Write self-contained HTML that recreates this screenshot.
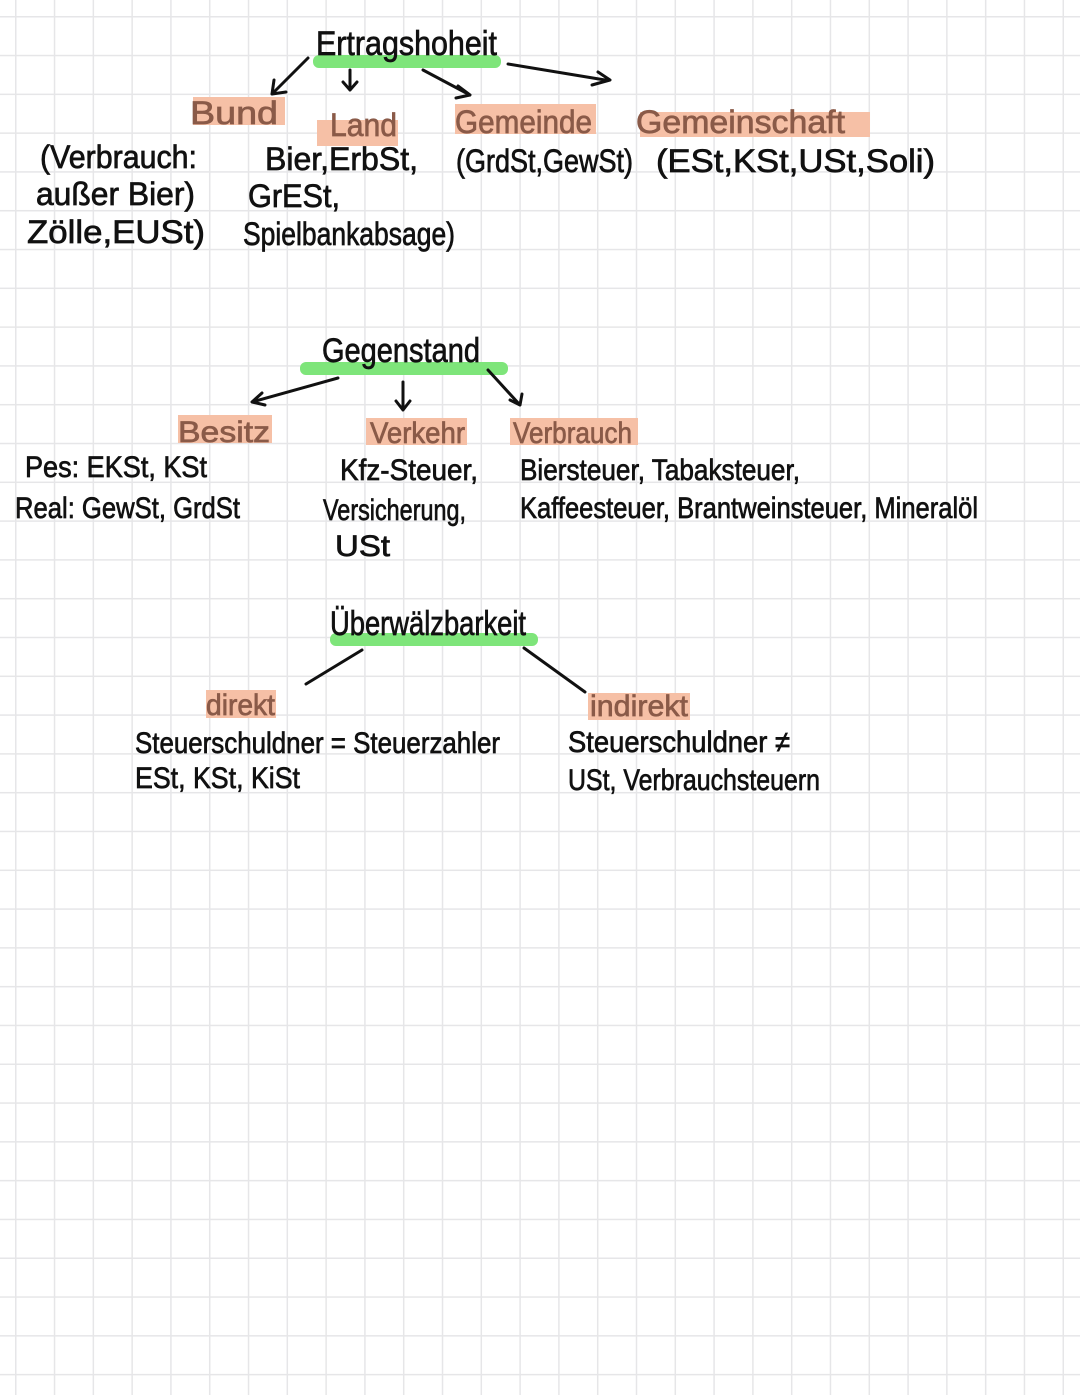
<!DOCTYPE html>
<html><head><meta charset="utf-8"><style>
html,body{margin:0;padding:0;}
body{width:1080px;height:1395px;background-color:#fff;
background-image:linear-gradient(to right,#e6e6e8 1.5px,transparent 1.5px),linear-gradient(to bottom,#e6e6e8 1.5px,transparent 1.5px);
background-size:38.8px 38.8px;background-position:15px 16px;overflow:hidden;}
svg{position:absolute;left:0;top:0;}
text{font-family:"Liberation Sans Narrow","Liberation Sans",sans-serif;fill:#111;stroke:#111;stroke-width:0.7;}
.b{fill:#8a5a48;stroke:#8a5a48;}
</style></head><body>
<svg width="1080" height="1395" viewBox="0 0 1080 1395">
<g fill="#7ee57a">
<rect x="313" y="55" width="188" height="13" rx="6"/>
<rect x="300" y="362" width="208" height="13" rx="6"/>
<rect x="330" y="633" width="208" height="13" rx="6"/>
</g>
<g fill="#f6c0a6">
<rect x="193" y="97" width="92" height="28"/>
<rect x="317" y="120" width="81" height="26"/>
<rect x="455" y="104" width="141" height="30"/>
<rect x="640" y="112" width="230" height="25"/>
<rect x="178" y="415" width="94" height="28"/>
<rect x="366" y="418" width="101" height="27"/>
<rect x="510" y="418" width="128" height="27"/>
<rect x="206" y="690" width="70" height="28"/>
<rect x="588" y="693" width="102" height="27"/>
</g>
<g stroke="#111" stroke-width="3" fill="none" stroke-linecap="round" stroke-linejoin="round">
<path d="M308 58 L272 94 M272 94 L274 80 M272 94 L286 92"/>
<path d="M350 70 L350 90 M343 82 L350 90 L357 82"/>
<path d="M423 70 L470 95 M458 86 L470 95 L456 98"/>
<path d="M508 64 L605 80 M598 72 L610 80 L592 85"/>
<path d="M338 378 L252 402 M262 393 L252 402 L265 405"/>
<path d="M403 382 L403 410 M396 401 L403 410 L410 401"/>
<path d="M488 370 L520 405 M522 394 L520 405 L510 400"/>
<path d="M362 650 L306 684"/>
<path d="M524 648 L585 692"/>
</g>
<g font-size="34">
<text x="316" y="55" textLength="181" lengthAdjust="spacingAndGlyphs">Ertragshoheit</text>
<text x="322" y="362" textLength="158" lengthAdjust="spacingAndGlyphs">Gegenstand</text>
<text x="330" y="635" textLength="196" lengthAdjust="spacingAndGlyphs">Überwälzbarkeit</text>
</g>
<g font-size="32">
<text class="b" x="190" y="124" textLength="88" lengthAdjust="spacingAndGlyphs">Bund</text>
<text class="b" x="330" y="136" textLength="67" lengthAdjust="spacingAndGlyphs">Land</text>
<text class="b" x="455" y="133" textLength="137" lengthAdjust="spacingAndGlyphs">Gemeinde</text>
<text class="b" x="636" y="133" textLength="209" lengthAdjust="spacingAndGlyphs">Gemeinschaft</text>
</g>
<g font-size="30">
<text class="b" x="178" y="442" textLength="92" lengthAdjust="spacingAndGlyphs">Besitz</text>
<text class="b" x="370" y="443" textLength="95" lengthAdjust="spacingAndGlyphs">Verkehr</text>
<text class="b" x="513" y="443" textLength="119" lengthAdjust="spacingAndGlyphs">Verbrauch</text>
<text class="b" x="206" y="715" textLength="69" lengthAdjust="spacingAndGlyphs">direkt</text>
<text class="b" x="590" y="716" textLength="98" lengthAdjust="spacingAndGlyphs">indirekt</text>
</g>
<g font-size="32">
<text x="40" y="168" textLength="157" lengthAdjust="spacingAndGlyphs">(Verbrauch:</text>
<text x="36" y="205" textLength="159" lengthAdjust="spacingAndGlyphs">außer Bier)</text>
<text x="27" y="243" textLength="178" lengthAdjust="spacingAndGlyphs">Zölle,EUSt)</text>
<text x="265" y="170" textLength="153" lengthAdjust="spacingAndGlyphs">Bier,ErbSt,</text>
<text x="248" y="207" textLength="92" lengthAdjust="spacingAndGlyphs">GrESt,</text>
<text x="243" y="245" textLength="212" lengthAdjust="spacingAndGlyphs">Spielbankabsage)</text>
<text x="456" y="172" textLength="177" lengthAdjust="spacingAndGlyphs">(GrdSt,GewSt)</text>
<text x="656" y="172" textLength="279" lengthAdjust="spacingAndGlyphs">(ESt,KSt,USt,Soli)</text>
</g>
<g font-size="30">
<text x="25" y="477" textLength="182" lengthAdjust="spacingAndGlyphs">Pes: EKSt, KSt</text>
<text x="15" y="518" textLength="225" lengthAdjust="spacingAndGlyphs">Real: GewSt, GrdSt</text>
<text x="340" y="480" textLength="138" lengthAdjust="spacingAndGlyphs">Kfz-Steuer,</text>
<text x="323" y="520" textLength="143" lengthAdjust="spacingAndGlyphs">Versicherung,</text>
<text x="335" y="556" textLength="55" lengthAdjust="spacingAndGlyphs">USt</text>
<text x="520" y="480" textLength="280" lengthAdjust="spacingAndGlyphs">Biersteuer, Tabaksteuer,</text>
<text x="520" y="518" textLength="458" lengthAdjust="spacingAndGlyphs">Kaffeesteuer, Brantweinsteuer, Mineralöl</text>
<text x="135" y="753" textLength="365" lengthAdjust="spacingAndGlyphs">Steuerschuldner = Steuerzahler</text>
<text x="135" y="788" textLength="165" lengthAdjust="spacingAndGlyphs">ESt, KSt, KiSt</text>
<text x="568" y="752" textLength="222" lengthAdjust="spacingAndGlyphs">Steuerschuldner ≠</text>
<text x="568" y="790" textLength="252" lengthAdjust="spacingAndGlyphs">USt, Verbrauchsteuern</text>
</g>
</svg>
</body></html>
